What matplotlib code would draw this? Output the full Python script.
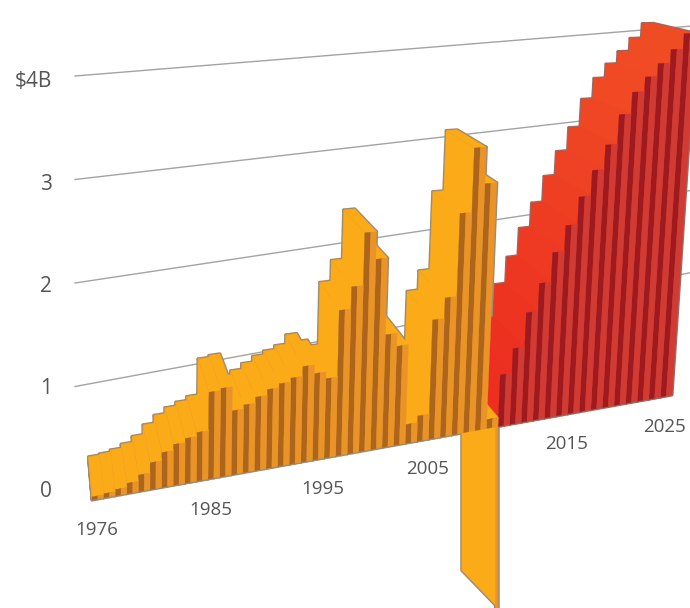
#!/usr/bin/python3

import numpy as np
import matplotlib
matplotlib.use('Agg')
import matplotlib.pyplot as plt
from matplotlib.colors import to_rgb
from matplotlib.collections import PolyCollection

plt.rcParams['font.family'] = ['Open Sans', 'DejaVu Sans']

years = np.arange(1976, 2026)
values = [0.03, 0.04, 0.06, 0.10, 0.16, 0.26, 0.34, 0.40, 0.44, 0.48,
          0.86, 0.88, 0.64, 0.68, 0.74, 0.80, 0.84, 0.88, 0.98, 0.89,
          0.82, 1.51, 1.74, 2.29, 2.00, 1.19, 1.05, 0.20, 0.27, 1.28,
          1.50, 2.40, 3.10, 2.70, 0.10, 0.57, 0.84, 1.22, 1.53, 1.86,
          2.15, 2.46, 2.75, 3.03, 3.37, 3.62, 3.79, 3.94, 4.10, 4.28]
first_red_year = 2011
dip_year = 2010
dip_value = -2.0

value_ticks = [0, 1, 2, 3, 4]
value_labels = ['0', '1', '2', '3', '$4B']
year_labels = ['1976', '1985', '1995', '2005', '2015', '2025']
year_label_xy = [(97, 529), (211, 509), (323, 488), (428, 468), (567, 443), (665, 426)]

# front plane corners in pixels, blended linearly along time and value
base_left = np.array([92., 500.])
base_right = np.array([672., 395.])
up_left = np.array([0., -105.])
up_right = np.array([5.65, -84.5])
n_slots = 50.

vanish = np.array([40., -120.])
depth_frac = 0.065


def project(pos, val, back=0):
    f = pos/n_slots
    up = (1-f)*up_left + f*up_right
    xy = (1-f)*base_left + f*base_right + val*up
    if val < 0:
        # verticals only lean above the ground
        xy[0] -= val*up[0]
    return tuple(xy + back*depth_frac*(vanish - xy))


def quad_wall(i, v):
    return [project(i, 0), project(i, v), project(i, v, 1), project(i, 0, 1)]


def quad_top(i, v):
    return [project(i, v), project(i+1, v), project(i+1, v, 1), project(i, v, 1)]


def quad_face(a, b, v):
    return [project(a, 0), project(a, v), project(b, v), project(b, 0)]


def blend(c0, c1, f):
    return tuple((1-f)*np.array(to_rgb(c0)) + f*np.array(to_rgb(c1)))


orange = {'light': '#fbaa18', 'mid': '#ea9428', 'dark': '#ad651c', 'edge': '#a08a70'}
red = {'light': '#ec2a20', 'mid': '#d23a34', 'dark': '#9e1a1e', 'edge': '#a0685c'}
red_high = '#f04c24'

fig = plt.figure(figsize=(6.9, 6.08), dpi=100)
ax = fig.add_axes([0, 0, 1, 1])
ax.set_xlim(0, 690)
ax.set_ylim(608, 0)
ax.set_axis_off()

# reference lines behind the bars
for t in value_ticks[1:]:
    ax.plot([75, 690], [490 - 103.5*t, 355 - 82.2*t], color='#a3a3a3', lw=1, zorder=1)

polys = []
fills = []
edges = []

# the one negative year goes down first, everything else is painted over it
k = dip_year - years[0]
dip_wall = [project(k, 0, 0.85), project(k, dip_value, 0.85),
            project(k+1, dip_value), project(k+1, 0)]
polys += [dip_wall, quad_face(k+0.78, k+1, dip_value)]
fills += [orange['light'], orange['mid']]
edges += [orange['edge'], orange['edge']]

# right to left, nearer bars hide the walls of the ones behind
for i in range(len(years)-1, -1, -1):
    c = red if years[i] >= first_red_year else orange
    v = values[i]
    light = blend(c['light'], red_high, min(v/4., 1)) if c is red else c['light']
    polys += [quad_wall(i, v), quad_top(i, v), quad_face(i, i+0.5, v), quad_face(i+0.5, i+1, v)]
    fills += [light, light, c['dark'], c['mid']]
    edges += [c['edge']]*4

outline = PolyCollection(polys, facecolors='none', edgecolors=edges, linewidths=2.2, zorder=2)
ax.add_collection(outline)

# fills are added one at a time so the paint order stays right to left
for p, f in zip(polys, fills):
    ax.fill(*zip(*p), color=f, lw=0.2, zorder=3)

for t, lab in zip(value_ticks, value_labels):
    ax.text(52, 491.5 - 102.5*t, lab, ha='right', va='center', fontsize=15, color='#555555')
for (x, y), lab in zip(year_label_xy, year_labels):
    ax.text(x, y + 1, lab, ha='center', va='center', fontsize=13.5, color='#555555')

fig.savefig('out.png', dpi=100)
